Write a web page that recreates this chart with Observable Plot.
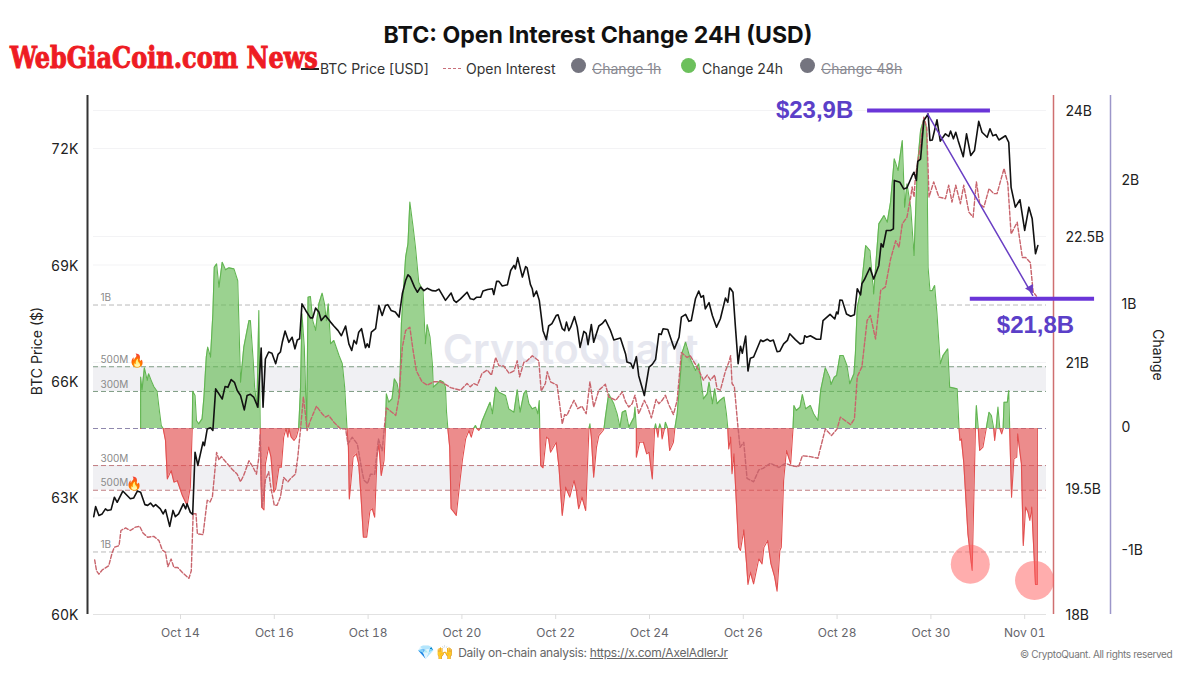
<!DOCTYPE html>
<html><head><meta charset="utf-8">
<script src="https://cdn.jsdelivr.net/npm/d3@7"></script>
<script src="https://cdn.jsdelivr.net/npm/@observablehq/plot@0.6"></script>
<style>
html,body{margin:0;padding:0;background:#fff;width:1200px;height:675px;overflow:hidden;font-family:Inter,"Noto Sans",sans-serif}
.abs{position:absolute;white-space:nowrap}
#chart{position:absolute;left:0;top:85px}
#chart svg{overflow:visible}
.leg{font-size:14px;color:#333;top:59.5px}
.off{color:#8a8a92;text-decoration:line-through}
.dot{position:absolute;width:15px;height:15px;border-radius:50%;top:58px}
</style></head><body>
<div class="abs" id="title" style="left:0;width:1196px;text-align:center;top:20.5px;font-size:23.1px;font-weight:700;color:#111">BTC: Open Interest Change 24H (USD)</div>
<div class="abs" style="left:301px;top:68px;width:18px;height:2px;background:#222"></div>
<div class="abs leg" style="left:320px">BTC Price [USD]</div>
<div class="abs" style="left:443px;top:68px;width:18px;border-top:1.5px dashed #c9707a"></div>
<div class="abs leg" style="left:466px">Open Interest</div>
<div class="dot" style="left:571px;background:#74747f"></div>
<div class="abs leg off" style="left:592px">Change 1h</div>
<div class="dot" style="left:681px;background:#6cc05c"></div>
<div class="abs leg" style="left:702px">Change 24h</div>
<div class="dot" style="left:800px;background:#74747f"></div>
<div class="abs leg off" style="left:821px">Change 48h</div>
<div class="abs" id="logo" style="left:10px;top:41px;font-family:'DejaVu Serif Condensed','DejaVu Serif',serif;font-weight:900;font-size:29px;color:#ee1c23;transform-origin:0 0;transform:scaleX(.92);-webkit-text-stroke:.9px #ee1c23">WebGiaCoin.com News</div>
<div class="abs" style="left:36px;top:351px;transform:translate(-50%,-50%) rotate(-90deg);font-size:14px;color:#222">BTC Price ($)</div>
<div class="abs" style="left:1158px;top:355px;transform:translate(-50%,-50%) rotate(90deg);font-size:14px;color:#222">Change</div>
<div id="chart"></div>
<div class="abs" style="left:417px;top:643px;font-size:12px;letter-spacing:-.25px;color:#666"><span style="font-size:14px;letter-spacing:2px">💎🙌</span> Daily on-chain analysis: <span style="text-decoration:underline">https://x.com/AxelAdlerJr</span></div>
<div class="abs" style="left:1020px;top:648px;font-size:10px;letter-spacing:-.35px;color:#777">© CryptoQuant. All rights reserved</div>
<script>
// [day counted from Oct 1 (32 = Nov 1), BTC price in $K]
const price=[[12.15,62.52],[12.19,62.78],[12.26,62.55],[12.33,62.59],[12.40,62.72],[12.44,62.68],[12.52,62.70],[12.59,63.02],[12.65,62.89],[12.77,63.18],[12.93,62.98],[13.00,63.00],[13.08,63.18],[13.15,63.15],[13.24,62.83],[13.30,62.81],[13.36,62.87],[13.42,62.78],[13.47,62.83],[13.57,62.72],[13.63,62.59],[13.68,62.70],[13.77,62.27],[13.84,62.68],[13.89,62.52],[13.96,62.59],[14.06,62.85],[14.11,62.72],[14.14,62.85],[14.21,62.63],[14.26,62.58],[14.31,64.18],[14.37,63.84],[14.48,64.44],[14.51,64.35],[14.57,64.78],[14.64,64.81],[14.69,64.74],[14.75,65.81],[14.89,65.55],[14.95,65.87],[15.01,65.85],[15.08,66.05],[15.15,65.98],[15.21,65.77],[15.28,65.64],[15.36,65.27],[15.42,65.64],[15.49,65.67],[15.56,65.60],[15.65,65.34],[15.72,66.86],[15.76,65.34],[15.81,66.58],[15.88,66.76],[15.95,66.73],[16.03,66.46],[16.08,66.70],[16.13,66.76],[16.17,67.01],[16.23,67.30],[16.31,67.01],[16.38,67.14],[16.44,66.84],[16.49,67.07],[16.54,67.10],[16.59,68.00],[16.67,67.83],[16.77,67.64],[16.82,67.64],[16.88,67.89],[16.95,67.79],[17.00,67.57],[17.09,67.70],[17.20,67.53],[17.27,67.43],[17.36,67.31],[17.43,67.18],[17.52,67.43],[17.59,66.97],[17.65,66.80],[17.70,67.06],[17.75,66.97],[17.80,67.27],[17.86,67.36],[17.945,66.87],[17.98,66.97],[18.02,66.88],[18.07,67.27],[18.16,67.36],[18.23,67.96],[18.30,67.70],[18.37,67.96],[18.42,67.98],[18.49,67.83],[18.58,67.79],[18.66,67.66],[18.73,68.26],[18.80,68.60],[18.85,68.75],[18.90,68.69],[18.99,68.43],[19.05,68.30],[19.12,68.43],[19.19,68.34],[19.26,68.40],[19.37,68.34],[19.44,68.33],[19.51,68.38],[19.65,68.09],[19.77,68.28],[19.83,68.09],[19.88,68.04],[19.97,68.13],[20.11,68.30],[20.18,68.13],[20.25,68.11],[20.31,68.17],[20.40,68.17],[20.45,68.33],[20.55,68.37],[20.65,68.39],[20.68,68.24],[20.74,68.58],[20.79,68.58],[20.86,68.46],[20.97,68.49],[21.04,68.86],[21.11,68.99],[21.14,68.90],[21.19,69.19],[21.29,68.69],[21.36,68.96],[21.39,68.93],[21.46,68.50],[21.50,68.39],[21.53,68.19],[21.59,68.33],[21.65,68.09],[21.73,67.31],[21.80,67.08],[21.85,67.43],[21.92,67.49],[22.01,67.70],[22.05,67.72],[22.14,67.36],[22.19,67.31],[22.23,67.53],[22.28,67.31],[22.32,67.40],[22.40,67.67],[22.46,67.40],[22.52,66.88],[22.60,67.29],[22.65,67.24],[22.69,66.95],[22.76,67.47],[22.81,67.01],[22.92,67.43],[22.99,67.49],[23.06,67.59],[23.17,67.31],[23.24,67.07],[23.38,67.12],[23.49,66.71],[23.52,66.50],[23.60,66.47],[23.65,66.34],[23.72,66.64],[23.77,66.15],[23.89,65.64],[23.99,66.37],[24.06,66.44],[24.13,66.57],[24.20,67.23],[24.25,67.21],[24.29,67.36],[24.39,67.34],[24.53,66.84],[24.63,67.14],[24.68,67.66],[24.77,67.73],[24.84,67.55],[24.89,67.57],[24.98,68.13],[25.05,68.33],[25.10,68.17],[25.15,68.21],[25.19,67.87],[25.27,68.03],[25.34,67.70],[25.43,67.40],[25.51,67.61],[25.62,68.15],[25.67,68.04],[25.71,68.41],[25.73,68.39],[25.78,68.30],[25.83,67.44],[25.89,66.46],[25.94,66.91],[25.98,66.73],[26.05,67.17],[26.10,66.27],[26.15,66.60],[26.22,66.63],[26.37,67.07],[26.42,67.03],[26.51,67.09],[26.57,67.04],[26.64,67.07],[26.72,66.77],[26.78,66.78],[26.86,66.97],[26.94,67.06],[26.99,67.23],[27.11,67.08],[27.21,66.97],[27.28,66.99],[27.31,67.18],[27.35,67.14],[27.43,67.18],[27.56,67.09],[27.65,67.09],[27.70,67.57],[27.85,67.73],[27.95,67.61],[27.99,67.79],[28.02,67.74],[28.06,68.10],[28.11,68.09],[28.20,67.74],[28.29,67.68],[28.37,67.72],[28.43,68.39],[28.50,68.23],[28.53,68.52],[28.58,68.62],[28.70,68.93],[28.78,68.64],[28.89,68.99],[28.94,69.55],[28.98,69.46],[29.05,69.89],[29.14,69.89],[29.20,69.93],[29.22,71.18],[29.34,71.13],[29.42,70.96],[29.49,70.99],[29.60,71.30],[29.64,71.39],[29.69,71.18],[29.72,71.67],[29.78,71.73],[29.85,72.72],[29.94,72.89],[29.98,72.21],[30.03,72.22],[30.13,72.74],[30.20,72.19],[30.31,72.38],[30.38,72.31],[30.42,72.45],[30.48,72.25],[30.53,72.42],[30.58,72.21],[30.69,71.79],[30.76,72.38],[30.85,71.82],[30.93,71.95],[31.02,72.70],[31.09,72.42],[31.20,72.29],[31.26,72.51],[31.32,72.33],[31.39,72.36],[31.45,72.22],[31.59,72.33],[31.66,72.16],[31.71,71.00],[31.80,70.49],[31.90,70.68],[32.00,69.89],[32.09,70.49],[32.16,70.19],[32.23,69.29],[32.28,69.50]];
// [day, open interest in $B]
const openInterest=[[12.17,18.65],[12.21,18.52],[12.26,18.48],[12.33,18.53],[12.47,18.58],[12.54,18.73],[12.59,18.80],[12.69,18.82],[12.73,19.00],[12.83,19.03],[12.93,19.00],[13.04,19.04],[13.13,19.05],[13.20,18.97],[13.30,18.92],[13.43,18.93],[13.54,18.88],[13.61,18.77],[13.68,18.74],[13.73,18.57],[13.80,18.66],[13.86,18.56],[13.94,18.56],[14.04,18.50],[14.18,18.43],[14.23,18.52],[14.27,19.20],[14.33,19.20],[14.36,18.96],[14.48,18.95],[14.57,19.36],[14.63,19.34],[14.68,19.40],[14.77,19.93],[14.82,19.84],[14.87,19.88],[14.99,19.80],[15.10,19.73],[15.21,19.67],[15.28,19.58],[15.35,19.66],[15.46,19.83],[15.55,19.75],[15.62,19.67],[15.67,19.87],[15.70,20.15],[15.74,19.28],[15.81,19.60],[15.88,19.70],[15.93,19.50],[16.00,19.30],[16.06,19.30],[16.13,19.40],[16.20,19.63],[16.29,19.58],[16.35,19.62],[16.45,19.67],[16.50,19.87],[16.56,20.21],[16.62,20.59],[16.67,20.35],[16.70,20.19],[16.77,20.31],[16.90,20.48],[17.02,20.39],[17.09,20.35],[17.16,20.37],[17.27,20.29],[17.41,20.21],[17.52,20.21],[17.57,20.03],[17.66,20.11],[17.77,20.03],[17.87,19.71],[17.91,19.60],[17.99,19.56],[18.05,19.67],[18.14,19.67],[18.22,20.09],[18.30,19.95],[18.34,20.19],[18.39,20.46],[18.48,20.42],[18.59,20.37],[18.66,20.59],[18.73,21.18],[18.80,21.38],[18.89,21.42],[18.96,21.14],[19.03,20.90],[19.15,20.77],[19.26,20.73],[19.40,20.77],[19.54,20.77],[19.65,20.74],[19.76,20.70],[19.97,20.67],[20.11,20.75],[20.18,20.71],[20.25,20.75],[20.33,20.73],[20.43,20.87],[20.54,20.91],[20.63,20.85],[20.72,21.06],[20.79,20.96],[20.89,20.96],[21.01,20.87],[21.11,20.90],[21.18,21.02],[21.23,20.83],[21.32,21.00],[21.39,21.02],[21.50,21.08],[21.64,21.02],[21.69,20.66],[21.78,20.75],[21.82,20.89],[21.89,20.77],[22.03,20.73],[22.14,20.27],[22.19,20.38],[22.24,20.37],[22.32,20.47],[22.39,20.55],[22.47,20.45],[22.56,20.48],[22.65,20.39],[22.73,20.77],[22.81,20.47],[22.92,20.67],[23.06,20.74],[23.13,20.59],[23.28,20.55],[23.42,20.65],[23.49,20.53],[23.56,20.47],[23.63,20.51],[23.69,20.61],[23.77,20.39],[23.89,20.55],[23.96,20.47],[24.04,20.34],[24.14,20.56],[24.20,20.51],[24.27,20.55],[24.34,20.61],[24.41,20.50],[24.51,20.38],[24.59,20.55],[24.68,21.12],[24.80,21.06],[24.87,21.08],[25.02,20.94],[25.15,20.79],[25.23,20.85],[25.30,20.79],[25.39,20.85],[25.44,20.69],[25.51,20.67],[25.62,20.90],[25.69,21.00],[25.73,21.08],[25.76,20.75],[25.81,20.71],[25.88,20.27],[25.93,19.99],[26.01,20.05],[26.08,19.62],[26.22,19.58],[26.33,19.72],[26.42,19.74],[26.58,19.80],[26.76,19.75],[26.90,19.80],[27.04,19.77],[27.18,19.76],[27.26,19.89],[27.43,19.88],[27.59,19.86],[27.75,20.21],[27.88,20.13],[28.00,20.21],[28.07,20.35],[28.29,20.26],[28.37,20.33],[28.43,20.83],[28.53,20.95],[28.64,21.50],[28.71,21.56],[28.82,21.28],[28.93,21.86],[29.03,21.90],[29.14,22.23],[29.25,22.45],[29.32,22.37],[29.39,22.65],[29.49,22.73],[29.57,22.97],[29.60,23.09],[29.64,22.97],[29.67,23.21],[29.78,23.60],[29.85,23.92],[29.91,23.80],[29.96,22.97],[30.06,23.15],[30.17,22.97],[30.31,22.95],[30.38,23.11],[30.45,22.91],[30.53,23.11],[30.63,22.89],[30.70,23.11],[30.81,22.79],[30.90,22.73],[30.97,23.15],[31.04,22.89],[31.13,22.85],[31.24,23.07],[31.34,23.01],[31.41,23.01],[31.56,23.31],[31.64,23.13],[31.71,22.53],[31.84,22.67],[31.95,22.25],[32.02,22.25],[32.12,22.19],[32.18,21.84],[32.25,21.79]];
// [day, 24h change in $B]
const change24h=[[13.15,0],[13.15,.416],[13.18,.313],[13.23,.491],[13.29,.389],[13.32,.443],[13.37,.394],[13.43,.340],[13.50,.302],[13.54,.173],[13.59,.024],[13.63,0],[13.68,-.097],[13.72,-.408],[13.80,-.340],[13.86,-.435],[13.93,-.421],[14.04,-.543],[14.14,-.623],[14.21,-.475],[14.25,0],[14.26,.302],[14.31,.267],[14.34,.065],[14.39,.038],[14.46,.078],[14.50,.254],[14.55,.578],[14.58,.659],[14.64,.578],[14.69,.928],[14.72,1.306],[14.77,1.333],[14.82,1.144],[14.89,1.347],[14.96,1.285],[15.03,1.301],[15.14,1.293],[15.22,1.198],[15.24,.928],[15.28,.375],[15.35,.659],[15.46,.874],[15.49,.874],[15.55,.551],[15.58,.335],[15.63,.173],[15.67,.955],[15.70,0],[15.71,-.286],[15.73,-.637],[15.78,-.659],[15.81,-.286],[15.88,-.151],[15.93,-.232],[15.99,-.516],[16.03,-.489],[16.10,-.313],[16.15,-.313],[16.20,-.070],[16.25,0],[16.29,-.070],[16.31,0],[16.36,-.070],[16.42,-.097],[16.47,-.070],[16.52,0],[16.56,.335],[16.59,.928],[16.64,.659],[16.69,0],[16.72,1.063],[16.77,1.069],[16.82,.874],[16.88,.794],[16.95,1.009],[17.02,1.096],[17.07,1.009],[17.11,.874],[17.15,1.009],[17.20,.686],[17.27,.713],[17.38,.591],[17.45,.524],[17.50,.335],[17.55,0],[17.58,-.151],[17.60,-.570],[17.65,-.367],[17.68,-.232],[17.75,-.205],[17.80,-.286],[17.85,-.556],[17.90,-.880],[17.97,-.880],[18.04,-.664],[18.09,-.650],[18.14,-.718],[18.19,-.232],[18.23,-.124],[18.28,-.381],[18.34,-.259],[18.37,0],[18.39,.281],[18.44,.213],[18.51,.240],[18.56,.402],[18.62,.362],[18.67,.254],[18.71,.848],[18.80,1.387],[18.85,1.495],[18.89,1.833],[18.96,1.630],[19.01,1.468],[19.08,1.185],[19.17,1.117],[19.22,.686],[19.26,.842],[19.32,.740],[19.37,.524],[19.39,.335],[19.47,.362],[19.54,.389],[19.61,.375],[19.65,.335],[19.67,.146],[19.70,0],[19.74,-.151],[19.77,-.650],[19.83,-.677],[19.88,-.704],[19.96,-.421],[20.01,-.259],[20.08,-.084],[20.15,-.016],[20.20,-.070],[20.25,0],[20.29,.024],[20.32,0],[20.36,-.016],[20.39,0],[20.43,.059],[20.54,.159],[20.60,.213],[20.65,.119],[20.72,.335],[20.79,.294],[20.93,.267],[21.00,.159],[21.11,.132],[21.18,.313],[21.24,.132],[21.32,.281],[21.37,.308],[21.43,.200],[21.50,.159],[21.57,.173],[21.62,.119],[21.65,.227],[21.66,0],[21.68,-.300],[21.73,-.318],[21.80,-.070],[21.85,-.084],[21.89,-.192],[22.01,-.111],[22.07,-.313],[22.14,-.704],[22.21,-.475],[22.30,-.556],[22.39,-.421],[22.44,-.502],[22.49,-.650],[22.56,-.556],[22.64,-.664],[22.69,-.178],[22.71,0],[22.73,.038],[22.74,0],[22.76,-.070],[22.81,-.394],[22.87,-.151],[22.92,-.057],[23.01,-.016],[23.03,0],[23.06,.092],[23.13,.281],[23.24,.200],[23.31,.119],[23.37,.011],[23.42,.132],[23.49,.146],[23.56,.011],[23.67,.092],[23.69,.173],[23.72,0],[23.72,-.232],[23.79,-.111],[23.87,-.111],[23.94,-.205],[23.99,-.192],[24.06,-.408],[24.11,0],[24.13,.038],[24.15,0],[24.18,-.070],[24.20,0],[24.22,.038],[24.25,0],[24.27,-.084],[24.32,0],[24.34,.051],[24.39,0],[24.43,-.178],[24.51,-.111],[24.54,0],[24.59,.119],[24.70,.618],[24.77,.699],[24.87,.564],[24.98,.470],[25.05,.524],[25.15,.240],[25.23,.281],[25.27,.375],[25.34,.200],[25.39,.321],[25.44,.200],[25.50,.227],[25.59,.254],[25.64,.119],[25.67,0],[25.69,-.165],[25.73,-.070],[25.76,-.367],[25.80,-.205],[25.85,-.583],[25.90,-.961],[25.94,-.988],[26.01,-.821],[26.07,-1.096],[26.10,-1.263],[26.15,-1.163],[26.22,-1.258],[26.33,-1.055],[26.40,-1.096],[26.44,-.961],[26.52,-.907],[26.59,-1.096],[26.67,-1.204],[26.72,-1.317],[26.78,-.988],[26.81,-.961],[26.86,-.421],[26.92,-.178],[27.01,-.286],[27.06,0],[27.08,.186],[27.13,.146],[27.21,.173],[27.26,.275],[27.33,.159],[27.38,.173],[27.43,.186],[27.50,.119],[27.59,.065],[27.65,.308],[27.75,.491],[27.84,.416],[27.87,.356],[27.94,.416],[27.99,.429],[28.06,.591],[28.13,.591],[28.21,.510],[28.27,.362],[28.36,.443],[28.39,.605],[28.43,.982],[28.51,1.117],[28.61,1.482],[28.70,1.441],[28.78,1.090],[28.89,1.657],[29.00,1.725],[29.07,1.671],[29.14,1.833],[29.22,2.184],[29.30,2.089],[29.39,2.332],[29.44,1.792],[29.49,1.981],[29.57,1.792],[29.64,1.401],[29.71,2.116],[29.78,2.413],[29.85,2.507],[29.91,2.426],[29.94,1.306],[29.98,1.117],[30.03,1.117],[30.08,1.158],[30.13,.928],[30.20,.524],[30.26,.591],[30.36,.645],[30.40,.335],[30.56,.321],[30.60,0],[30.62,-.097],[30.65,-.084],[30.70,-.273],[30.79,-.853],[30.88,-1.150],[30.95,0],[30.97,.186],[31.01,0],[31.04,-.178],[31.11,-.151],[31.18,0],[31.24,.132],[31.29,.105],[31.34,0],[31.36,-.097],[31.39,0],[31.43,.173],[31.47,0],[31.51,-.043],[31.54,0],[31.56,.213],[31.63,.213],[31.66,.308],[31.68,0],[31.72,-.556],[31.77,-.246],[31.83,-.232],[31.85,-.043],[31.93,-.286],[31.97,-.947],[32.02,-.637],[32.07,-.677],[32.11,-.745],[32.15,-.637],[32.23,-1.263],[32.27,-1.263],[32.27,0]];

const priceTicks=[60,63,66,69,72];
const oiTicks=[18,19.5,21,22.5,24];
const changeTicks=[-1,0,1,2];
const dayTicks=[14,16,18,20,22,24,26,28,30,32];
const changeBands=[[.3,.5],[-.5,-.3]];
const guides=[{v:1,label:"1B",kind:"far"},{v:.5,label:"500M",kind:"pos"},{v:.3,label:"300M",kind:"pos"},{v:0,label:"",kind:"zero"},{v:-.3,label:"300M",kind:"neg"},{v:-.5,label:"500M",kind:"neg"},{v:-1,label:"1B",kind:"far"}];
const guideColor={far:"#b9b9b9",pos:"#7f9c84",zero:"#8f88ad",neg:"#c07c80"};
const flames=[{v:.5,day:13.08},{v:-.5,day:13.01}];
const hotspots=[{day:30.84,v:-1.10},{day:32.21,v:-1.23}];
const levels=[{a:28.65,b:31.27,oi:24.0},{a:30.84,b:33.49,oi:21.76}];
const levelNotes=[{day:27.52,oi:24.0,text:"$23,9B"},{day:32.23,oi:21.44,text:"$21,8B"}];
const drop=[{a:29.93,from:23.96,b:32.17,to:21.80}];

const date=d=>new Date(Date.UTC(2024,9,1)+(d-1)*864e5);
const dayDomain=[12.145,32.465];
// the chart's three value axes share one drawn height; these align OI and Change onto the price scale
const oiY=d3.scaleLinear([18,24],[60,72.98]);
const chY=d3.scaleLinear([0,1],[64.79,67.97]);
const axisEnd=date(dayDomain[1]), axisStart=date(dayDomain[0]);
const ch=change24h.map(([d,v])=>({t:date(d),v}));
const purple="#6a35d8", green="#67bb56", red="#e25050";

const plot=Plot.plot({
  width:1200,height:560,marginLeft:93,marginRight:154,marginTop:10,marginBottom:31,
  style:{fontFamily:"Inter,'Noto Sans',sans-serif",background:"transparent",overflow:"visible"},
  x:{type:"utc",domain:dayDomain.map(date),label:null},
  y:{domain:[60,73.366],label:null},
  marks:[
    Plot.ruleY(priceTicks,{y:d=>d,stroke:"#f3f3f5"}),
    Plot.ruleY(oiTicks,{y:d=>oiY(d),stroke:"#f3f3f5"}),
    Plot.text(["CryptoQuant"],{x:date(22.32),y:66.8,text:d=>d,fontSize:41,fontWeight:600,fill:"#e6e7ef"}),
    Plot.rectY(changeBands,{x1:axisStart,x2:axisEnd,y1:d=>chY(d[0]),y2:d=>chY(d[1]),fill:"#f0f0f3"}),
    Plot.ruleY(guides,{y:d=>chY(d.v),stroke:d=>guideColor[d.kind],strokeDasharray:"5 3",strokeWidth:1}),
    Plot.text(guides,{x:axisStart,y:d=>chY(d.v),text:"label",dx:7,dy:-7,textAnchor:"start",fontSize:10,fill:"#8a8a8a"}),
    Plot.text(flames,{x:d=>date(d.day),y:d=>chY(d.v),text:()=>"🔥",dy:-6,fontSize:13}),
    Plot.areaY(ch,{x:"t",y1:()=>chY(0),y2:d=>chY(Math.max(d.v,0)),fill:green,fillOpacity:.66}),
    Plot.areaY(ch,{x:"t",y1:()=>chY(0),y2:d=>chY(Math.min(d.v,0)),fill:red,fillOpacity:.66}),
    Plot.lineY(ch,{x:"t",y:d=>d.v>=0?chY(d.v):NaN,stroke:"#62b552",strokeWidth:1.1}),
    Plot.lineY(ch,{x:"t",y:d=>d.v<=0?chY(d.v):NaN,stroke:red,strokeWidth:1.1}),
    Plot.line(openInterest,{x:d=>date(d[0]),y:d=>oiY(d[1]),stroke:"#c8646c",strokeWidth:1.4,strokeDasharray:"4 2"}),
    Plot.line(price,{x:d=>date(d[0]),y:d=>d[1],stroke:"#111",strokeWidth:1.6}),
    Plot.ruleX([axisStart],{dx:-6,stroke:"#333",strokeWidth:2}),
    Plot.ruleX([axisEnd],{dx:7,stroke:"#cf6f70",strokeWidth:1.5}),
    Plot.ruleX([axisEnd],{dx:64,stroke:"#9c96c9",strokeWidth:1.5}),
    Plot.ruleY([60],{stroke:"#e2e2e2"}),
    Plot.axisX({ticks:dayTicks.map(date),tickFormat:d3.utcFormat("%b %d"),tickSize:5,tickPadding:9,stroke:"#dcdcdc",fill:"#66666c",fontSize:12,label:null}),
    Plot.axisY({ticks:priceTicks,tickFormat:d=>d+"K",tickSize:0,tickPadding:15,dy:1,fill:"#222",fontSize:14,label:null}),
    Plot.text(oiTicks,{x:axisEnd,y:d=>oiY(d),text:d=>d+"B",dx:19,dy:1,textAnchor:"start",fontSize:14,fill:"#222"}),
    Plot.text(changeTicks,{x:axisEnd,y:d=>chY(d),text:d=>d===0?"0":d+"B",dx:75,dy:-1,textAnchor:"start",fontSize:14,fill:"#222"}),
    Plot.dot(hotspots,{x:d=>date(d.day),y:d=>chY(d.v),r:19.5,fill:"#ff5c5c",fillOpacity:.5,stroke:null}),
    Plot.ruleY(levels,{x1:d=>date(d.a),x2:d=>date(d.b),y:d=>oiY(d.oi),stroke:purple,strokeWidth:4}),
    Plot.arrow(drop,{x1:d=>date(d.a),y1:d=>oiY(d.from),x2:d=>date(d.b),y2:d=>oiY(d.to),stroke:"#6a3fc4",strokeWidth:1.5,headLength:0}),
    Plot.dot(drop,{x:d=>date(d.b-.05),y:d=>oiY(d.to+.08),symbol:"triangle",rotate:150,r:3.4,fill:"#6a3fc4",stroke:null}),
    Plot.text(levelNotes,{x:d=>date(d.day),y:d=>oiY(d.oi),text:"text",fontFamily:"'Liberation Sans',Arial,sans-serif",fontSize:24,fontWeight:700,fill:"#5b3fc8"})
  ]
});
document.getElementById("chart").appendChild(plot);
</script>
</body></html>
